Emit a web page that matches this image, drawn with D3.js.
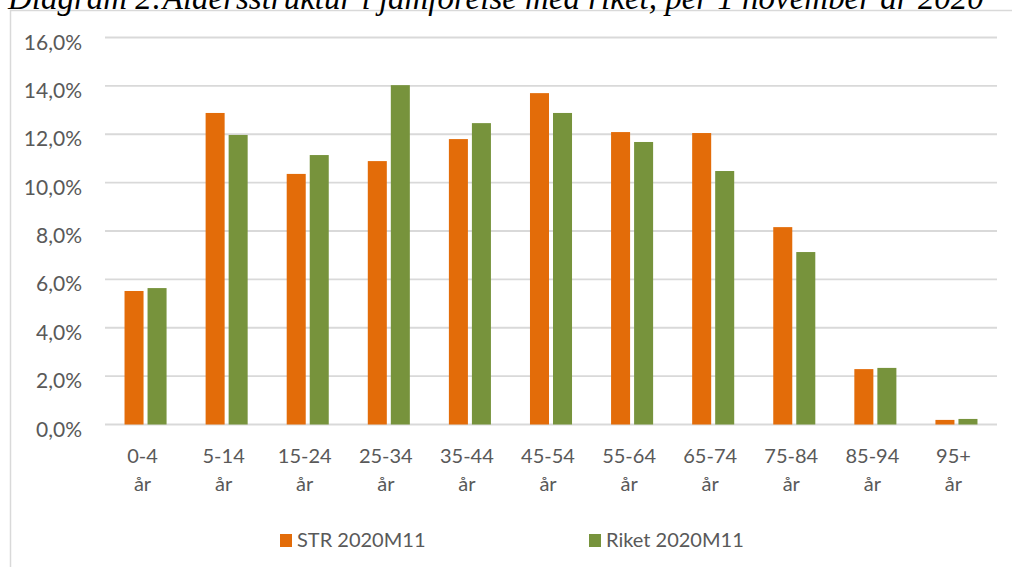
<!DOCTYPE html>
<html>
<head>
<meta charset="utf-8">
<script src="https://cdn.jsdelivr.net/npm/d3@7"></script>
<style>
  html, body { margin: 0; padding: 0; background: #ffffff; overflow: hidden; }
  svg { display: block; }
</style>
</head>
<body>
<svg id="chart" width="1012" height="567"></svg>
<script>
// Age groups and share of population (%) per group, 1 November 2020
const categories = ["0-4 år", "5-14 år", "15-24 år", "25-34 år", "35-44 år", "45-54 år",
                    "55-64 år", "65-74 år", "75-84 år", "85-94 år", "95+ år"];
const seriesNames = ["STR 2020M11", "Riket 2020M11"];
const strValues   = [5.52, 12.88, 10.36, 10.89, 11.80, 13.70, 12.09, 12.05, 8.16, 2.29, 0.19];
const riketValues = [5.64, 11.97, 11.14, 14.03, 12.46, 12.88, 11.68, 10.48, 7.13, 2.34, 0.23];
const yTicks = [0, 2, 4, 6, 8, 10, 12, 14, 16];
const colors = ["#E36C09", "#77933C"];
const titleText = "Diagram 2:Åldersstruktur i jämförelse med riket, per 1 november år 2020";

const seriesValues = [strValues, riketValues];
const svg = d3.select("#chart");

const plot = { left: 105, right: 997, top: 37.5, bottom: 424.5 };
const labelFont = "Lato, 'Open Sans', sans-serif";
const textColor = "#595959";
const gridColor = "#d9d9d9";

// Chart frame
svg.append("rect")
  .attr("x", 10.5).attr("y", 10.5)
  .attr("width", 1020).attr("height", 580)
  .attr("fill", "#ffffff")
  .attr("stroke", gridColor).attr("stroke-width", 1.5);

// Title above the frame
const title = svg.append("text")
  .attr("x", 8).attr("y", 9)
  .attr("font-family", "'Liberation Serif', 'DejaVu Serif', serif")
  .attr("font-style", "italic")
  .attr("font-size", 26)
  .attr("fill", "#000000")
  .text(titleText);
const tw = title.node().getComputedTextLength();
title.attr("font-size", 26 * 976 / tw);

// Scales
const x0 = d3.scaleBand()
  .domain(categories)
  .range([plot.left, plot.right])
  .paddingInner(1 - 42 / 81)
  .paddingOuter((1 - 42 / 81) / 2);

const x1 = d3.scaleBand()
  .domain(d3.range(seriesNames.length))
  .range([0, x0.bandwidth()])
  .paddingInner(4 / 23);

const y = d3.scaleLinear().domain([0, 16]).range([plot.bottom, plot.top]);

const locale = d3.formatLocale({ decimal: ",", thousands: " ", grouping: [3], currency: ["", " kr"] });
const fmt = locale.format(".1f");

// Horizontal gridlines
svg.append("g")
  .selectAll("line")
  .data(yTicks)
  .join("line")
  .attr("x1", plot.left).attr("x2", plot.right)
  .attr("y1", d => y(d)).attr("y2", d => y(d))
  .attr("stroke", gridColor)
  .attr("stroke-width", 1.8);

// Y axis labels
svg.append("g")
  .selectAll("text")
  .data(yTicks)
  .join("text")
  .attr("x", 82)
  .attr("y", d => y(d) + 12)
  .attr("text-anchor", "end")
  .attr("font-family", labelFont)
  .attr("font-size", 21)
  .attr("fill", textColor)
  .text(d => fmt(d) + "%");

// Bars
const groups = svg.append("g")
  .selectAll("g")
  .data(categories)
  .join("g")
  .attr("transform", d => `translate(${x0(d)},0)`);

groups.selectAll("rect")
  .data((d, i) => seriesValues.map((vals, s) => ({ s, v: vals[i] })))
  .join("rect")
  .attr("x", d => x1(d.s))
  .attr("width", x1.bandwidth())
  .attr("y", d => y(d.v))
  .attr("height", d => y(0) - y(d.v))
  .attr("fill", d => colors[d.s]);

// Category labels (two lines)
const catLabels = svg.append("g")
  .selectAll("text")
  .data(categories)
  .join("text")
  .attr("text-anchor", "middle")
  .attr("font-family", labelFont)
  .attr("font-size", 20)
  .attr("fill", textColor);

catLabels.each(function (d) {
  const cx = x0(d) + x0.bandwidth() / 2 - 3;
  const parts = d.split(" ");
  const t = d3.select(this);
  t.append("tspan").attr("x", cx).attr("y", 463).text(parts[0]);
  t.append("tspan").attr("x", cx).attr("y", 491).text(parts.slice(1).join(" "));
});

// Legend
const legendX = [280, 589];
const legend = svg.append("g")
  .selectAll("g")
  .data(seriesNames)
  .join("g")
  .attr("transform", (d, i) => `translate(${legendX[i]},534)`);

legend.append("rect")
  .attr("width", 12).attr("height", 13)
  .attr("fill", (d, i) => colors[i]);

legend.append("text")
  .attr("x", 17).attr("y", 12.7)
  .attr("font-family", labelFont)
  .attr("font-size", 20)
  .attr("fill", textColor)
  .text(d => d);
</script>
</body>
</html>
